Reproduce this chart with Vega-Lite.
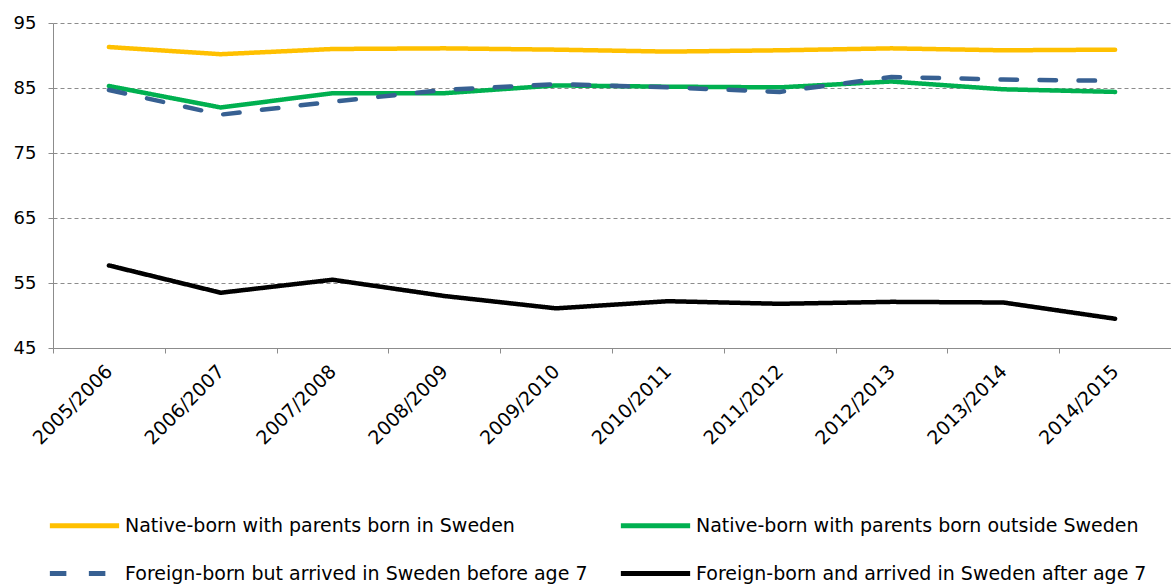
{
  "$schema": "https://vega.github.io/schema/vega-lite/v6.json",
  "width": 1118,
  "height": 325,
  "autosize": "none",
  "padding": {"left": 53, "top": 23, "right": 0, "bottom": 240},
  "background": "white",
  "config": {
    "view": {"stroke": null},
    "font": "DejaVu Sans"
  },
  "data": {
    "values": [
      {"year": "2005/2006", "group": "Native-born with parents born in Sweden", "value": 91.3},
      {"year": "2006/2007", "group": "Native-born with parents born in Sweden", "value": 90.2},
      {"year": "2007/2008", "group": "Native-born with parents born in Sweden", "value": 91.0},
      {"year": "2008/2009", "group": "Native-born with parents born in Sweden", "value": 91.1},
      {"year": "2009/2010", "group": "Native-born with parents born in Sweden", "value": 90.9},
      {"year": "2010/2011", "group": "Native-born with parents born in Sweden", "value": 90.6},
      {"year": "2011/2012", "group": "Native-born with parents born in Sweden", "value": 90.8},
      {"year": "2012/2013", "group": "Native-born with parents born in Sweden", "value": 91.1},
      {"year": "2013/2014", "group": "Native-born with parents born in Sweden", "value": 90.8},
      {"year": "2014/2015", "group": "Native-born with parents born in Sweden", "value": 90.9},
      {"year": "2005/2006", "group": "Native-born with parents born outside Sweden", "value": 85.3},
      {"year": "2006/2007", "group": "Native-born with parents born outside Sweden", "value": 82.0},
      {"year": "2007/2008", "group": "Native-born with parents born outside Sweden", "value": 84.2},
      {"year": "2008/2009", "group": "Native-born with parents born outside Sweden", "value": 84.2},
      {"year": "2009/2010", "group": "Native-born with parents born outside Sweden", "value": 85.4},
      {"year": "2010/2011", "group": "Native-born with parents born outside Sweden", "value": 85.2},
      {"year": "2011/2012", "group": "Native-born with parents born outside Sweden", "value": 85.1},
      {"year": "2012/2013", "group": "Native-born with parents born outside Sweden", "value": 86.0},
      {"year": "2013/2014", "group": "Native-born with parents born outside Sweden", "value": 84.8},
      {"year": "2014/2015", "group": "Native-born with parents born outside Sweden", "value": 84.4},
      {"year": "2005/2006", "group": "Foreign-born but arrived in Sweden before age 7", "value": 84.7},
      {"year": "2006/2007", "group": "Foreign-born but arrived in Sweden before age 7", "value": 80.9},
      {"year": "2007/2008", "group": "Foreign-born but arrived in Sweden before age 7", "value": 82.9},
      {"year": "2008/2009", "group": "Foreign-born but arrived in Sweden before age 7", "value": 84.7},
      {"year": "2009/2010", "group": "Foreign-born but arrived in Sweden before age 7", "value": 85.6},
      {"year": "2010/2011", "group": "Foreign-born but arrived in Sweden before age 7", "value": 85.1},
      {"year": "2011/2012", "group": "Foreign-born but arrived in Sweden before age 7", "value": 84.4},
      {"year": "2012/2013", "group": "Foreign-born but arrived in Sweden before age 7", "value": 86.7},
      {"year": "2013/2014", "group": "Foreign-born but arrived in Sweden before age 7", "value": 86.3},
      {"year": "2014/2015", "group": "Foreign-born but arrived in Sweden before age 7", "value": 86.1},
      {"year": "2005/2006", "group": "Foreign-born and arrived in Sweden after age 7", "value": 57.7},
      {"year": "2006/2007", "group": "Foreign-born and arrived in Sweden after age 7", "value": 53.5},
      {"year": "2007/2008", "group": "Foreign-born and arrived in Sweden after age 7", "value": 55.5},
      {"year": "2008/2009", "group": "Foreign-born and arrived in Sweden after age 7", "value": 53.0},
      {"year": "2009/2010", "group": "Foreign-born and arrived in Sweden after age 7", "value": 51.1},
      {"year": "2010/2011", "group": "Foreign-born and arrived in Sweden after age 7", "value": 52.2},
      {"year": "2011/2012", "group": "Foreign-born and arrived in Sweden after age 7", "value": 51.8},
      {"year": "2012/2013", "group": "Foreign-born and arrived in Sweden after age 7", "value": 52.1},
      {"year": "2013/2014", "group": "Foreign-born and arrived in Sweden after age 7", "value": 52.0},
      {"year": "2014/2015", "group": "Foreign-born and arrived in Sweden after age 7", "value": 49.5}
    ]
  },
  "mark": {"type": "line", "strokeWidth": 4.5, "strokeCap": "round", "strokeJoin": "round"},
  "encoding": {
    "x": {
      "field": "year",
      "type": "ordinal",
      "bandPosition": 0.5,
      "scale": {"type": "band", "paddingInner": 0, "paddingOuter": 0},
      "axis": {
        "title": null,
        "tickBand": "extent",
        "labelAngle": -45,
        "labelAlign": "right",
        "labelBaseline": "middle",
        "labelFontSize": 19,
        "labelColor": "#000000",
        "labelPadding": 15,
        "domainColor": "#8c8c8c",
        "tickColor": "#8c8c8c",
        "tickSize": 5,
        "grid": false
      }
    },
    "y": {
      "field": "value",
      "type": "quantitative",
      "scale": {"domain": [45, 95], "nice": false, "zero": false},
      "axis": {
        "title": null,
        "values": [45, 55, 65, 75, 85, 95],
        "labelFontSize": 18,
        "labelColor": "#000000",
        "labelPadding": 12,
        "domainColor": "#8c8c8c",
        "tickColor": "#8c8c8c",
        "tickSize": 5,
        "grid": true,
        "gridColor": "#8c8c8c",
        "gridDash": [4, 3],
        "gridWidth": 1
      }
    },
    "color": {
      "field": "group",
      "type": "nominal",
      "sort": null,
      "scale": {
        "domain": [
          "Native-born with parents born in Sweden",
          "Native-born with parents born outside Sweden",
          "Foreign-born but arrived in Sweden before age 7",
          "Foreign-born and arrived in Sweden after age 7"
        ],
        "range": ["#FFC000", "#00B050", "#376092", "#000000"]
      },
      "legend": {
        "title": null,
        "orient": "none",
        "direction": "horizontal",
        "legendX": -6,
        "legendY": 465,
        "columns": 2,
        "columnPadding": 22,
        "rowPadding": -7,
        "symbolType": "stroke",
        "symbolSize": 4800,
        "symbolStrokeWidth": 5,
        "labelFontSize": 19,
        "labelColor": "#000000",
        "labelLimit": 700,
        "labelOffset": 3
      }
    },
    "strokeDash": {
      "field": "group",
      "type": "nominal",
      "scale": {
        "domain": [
          "Native-born with parents born in Sweden",
          "Native-born with parents born outside Sweden",
          "Foreign-born but arrived in Sweden before age 7",
          "Foreign-born and arrived in Sweden after age 7"
        ],
        "range": [[1, 0], [1, 0], [16.5, 22.5], [1, 0]]
      },
      "legend": null
    }
  }
}
